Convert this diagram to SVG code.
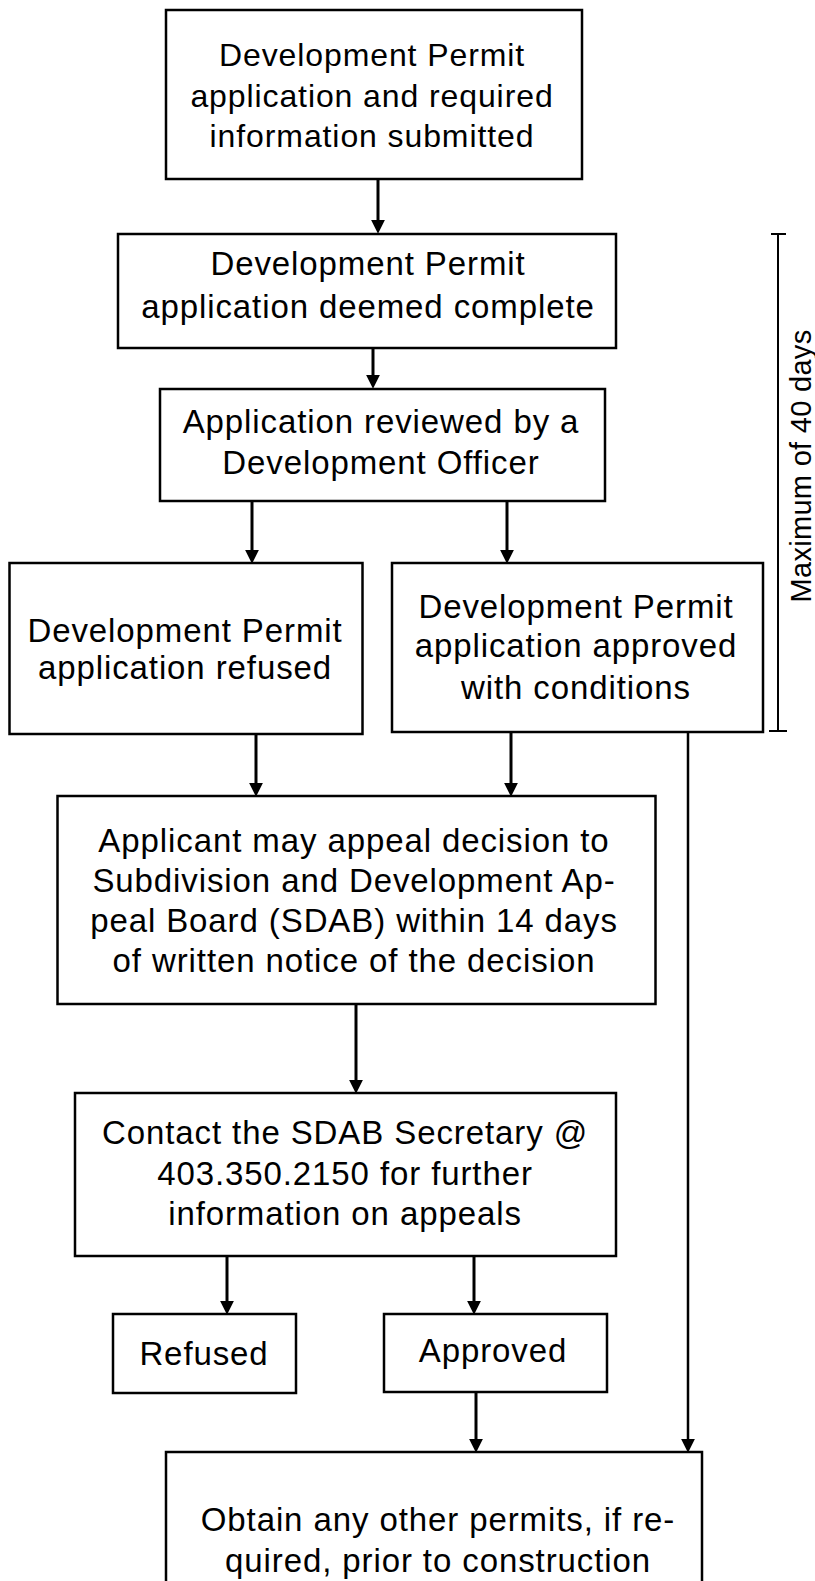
<svg xmlns="http://www.w3.org/2000/svg" width="815" height="1581" viewBox="0 0 815 1581">
<defs>
<style>
.box{fill:#fff;stroke:#000;stroke-width:2.5}
.t{font-family:"Liberation Sans",Arial,sans-serif;font-size:33px;fill:#000;text-anchor:middle;letter-spacing:0.9px}
.t1{font-size:32px;letter-spacing:0.9px}
.c{fill:none;stroke:#000;stroke-width:3}
.thin{stroke-width:2.5}
.br{fill:none;stroke:#000;stroke-width:2}
</style>
<marker id="ah" markerUnits="userSpaceOnUse" markerWidth="14" markerHeight="14" viewBox="0 0 13 13" refX="3" refY="6.5" orient="auto">
<path d="M0,0 L13,6.5 L0,13 z" fill="#000"/>
</marker>
</defs>
<rect width="815" height="1581" fill="#fff"/>

<g id="connectors">
<line class="c" x1="378" y1="179" x2="378" y2="223" marker-end="url(#ah)"/>
<line class="c" x1="373" y1="348" x2="373" y2="378" marker-end="url(#ah)"/>
<line class="c" x1="252" y1="501" x2="252" y2="553" marker-end="url(#ah)"/>
<line class="c" x1="507" y1="501" x2="507" y2="553" marker-end="url(#ah)"/>
<line class="c" x1="256" y1="734" x2="256" y2="786" marker-end="url(#ah)"/>
<line class="c" x1="511" y1="732" x2="511" y2="786" marker-end="url(#ah)"/>
<line class="c" x1="356" y1="1004" x2="356" y2="1083" marker-end="url(#ah)"/>
<line class="c" x1="227" y1="1256" x2="227" y2="1304" marker-end="url(#ah)"/>
<line class="c" x1="474" y1="1256" x2="474" y2="1304" marker-end="url(#ah)"/>
<line class="c" x1="476" y1="1392" x2="476" y2="1442" marker-end="url(#ah)"/>
<line class="c thin" x1="688" y1="730" x2="688" y2="1442" marker-end="url(#ah)"/>
</g>

<g id="n1">
<rect class="box" x="166" y="10" width="416" height="169"/>
<text class="t t1" x="372" y="66">Development Permit</text>
<text class="t t1" x="372" y="106.5">application and required</text>
<text class="t t1" x="372" y="147">information submitted</text>
</g>

<g id="n2">
<rect class="box" x="118" y="234" width="498" height="114"/>
<text class="t" x="368" y="275">Development Permit</text>
<text class="t" x="368" y="318">application deemed complete</text>
</g>

<g id="n3">
<rect class="box" x="160" y="389" width="445" height="112"/>
<text class="t" x="381" y="433">Application reviewed by a</text>
<text class="t" x="381" y="474">Development Officer</text>
</g>

<g id="n4">
<rect class="box" x="9.5" y="563" width="353" height="171"/>
<text class="t" x="185" y="642">Development Permit</text>
<text class="t" x="185" y="679">application refused</text>
</g>

<g id="n5">
<rect class="box" x="392" y="563" width="371" height="169"/>
<text class="t" x="576" y="618">Development Permit</text>
<text class="t" x="576" y="657">application approved</text>
<text class="t" x="576" y="699">with conditions</text>
</g>

<g id="bracket">
<line class="br" x1="778" y1="234" x2="778" y2="731"/>
<line class="br" x1="771" y1="234" x2="786" y2="234"/>
<line class="br" x1="769" y1="731" x2="787" y2="731"/>
<text font-family="Liberation Sans, Arial, sans-serif" font-size="29" letter-spacing="0.3" text-anchor="middle" fill="#000" transform="translate(811 466) rotate(-90)">Maximum of 40 days</text>
</g>

<g id="n6">
<rect class="box" x="57.5" y="796" width="598" height="208"/>
<text class="t" x="354" y="852">Applicant may appeal decision to</text>
<text class="t" x="354" y="892">Subdivision and Development Ap-</text>
<text class="t" x="354" y="932">peal Board (SDAB) within 14 days</text>
<text class="t" x="354" y="972">of written notice of the decision</text>
</g>

<g id="n7">
<rect class="box" x="75" y="1093" width="541" height="163"/>
<text class="t" x="345" y="1144">Contact the SDAB Secretary @</text>
<text class="t" x="345" y="1184.5">403.350.2150 for further</text>
<text class="t" x="345" y="1225">information on appeals</text>
</g>

<g id="n8">
<rect class="box" x="113" y="1314" width="183" height="79"/>
<text class="t" x="204" y="1365">Refused</text>
</g>

<g id="n9">
<rect class="box" x="384" y="1314" width="223" height="78"/>
<text class="t" x="493" y="1362">Approved</text>
</g>

<g id="n10">
<rect class="box" x="166" y="1452" width="536" height="200"/>
<text class="t" x="438" y="1531">Obtain any other permits, if re-</text>
<text class="t" x="438" y="1572">quired, prior to construction</text>
</g>
</svg>
